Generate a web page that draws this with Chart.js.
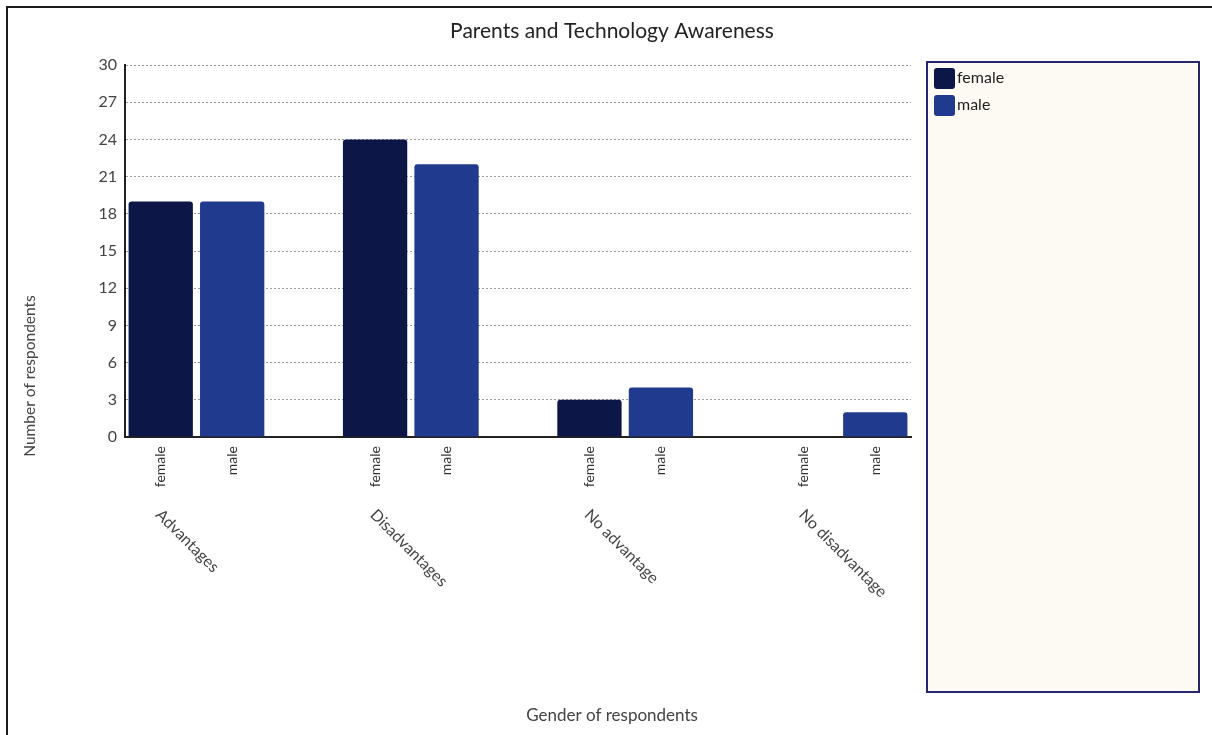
<!DOCTYPE html>
<html>
<head>
<meta charset="utf-8">
<title>Parents and Technology Awareness</title>
<script src="https://cdn.jsdelivr.net/npm/chart.js@4.4.1/dist/chart.umd.min.js"></script>
<style>
  html, body { margin: 0; padding: 0; background: #fff; }
  #wrap { position: relative; width: 1212px; height: 735px; }
</style>
</head>
<body>
<div id="wrap"><canvas id="awarenessChart" width="1212" height="735"></canvas></div>
<script>
const categories = ["Advantages", "Disadvantages", "No advantage", "No disadvantage"];
const genders = ["female", "male"];
const femaleCounts = [19, 24, 3, 0];
const maleCounts = [19, 22, 4, 2];
const yTicks = [0, 3, 6, 9, 12, 15, 18, 21, 24, 27, 30];

const femaleColor = "#0d1747";
const maleColor = "#203a8d";

// every category gets a female slot, a male slot and an empty spacer slot
const slotLabels = [];
const femaleSlots = [];
const maleSlots = [];
categories.forEach((cat, i) => {
  slotLabels.push(genders[0], genders[1]);
  femaleSlots.push(femaleCounts[i], null);
  maleSlots.push(null, maleCounts[i]);
  if (i < categories.length - 1) {
    slotLabels.push("");
    femaleSlots.push(null);
    maleSlots.push(null);
  }
});

const decorations = {
  id: "decorations",
  beforeDraw(chart) {
    const ctx = chart.ctx;
    ctx.save();
    ctx.fillStyle = "#1c1c1c";
    ctx.fillRect(6, 6, chart.width - 6, 2);
    ctx.fillRect(6, 6, 2, chart.height - 6);
    ctx.restore();
  },
  afterDraw(chart) {
    const ctx = chart.ctx;
    const x = chart.scales.x;

    ctx.save();
    // title
    ctx.fillStyle = "#222";
    ctx.font = "21px Lato";
    ctx.textAlign = "center";
    ctx.textBaseline = "middle";
    ctx.fillText("Parents and Technology Awareness", 612, 31);

    // axis titles
    ctx.fillStyle = "#444";
    ctx.font = "17px Lato";
    ctx.fillText("Gender of respondents", 612, 716);
    ctx.save();
    ctx.translate(30, 376);
    ctx.rotate(-Math.PI / 2);
    ctx.font = "15.5px Lato";
    ctx.fillText("Number of respondents", 0, 0);
    ctx.restore();

    // category names under each pair of bars
    ctx.font = "16px Lato";
    ctx.textAlign = "left";
    categories.forEach((cat, i) => {
      const cx = (x.getPixelForTick(i * 3) + x.getPixelForTick(i * 3 + 1)) / 2;
      ctx.save();
      ctx.translate(cx - 38, 512);
      ctx.rotate(Math.PI / 4);
      ctx.fillText(cat, 0, 0);
      ctx.restore();
    });

    // legend panel
    ctx.fillStyle = "#fdfaf4";
    ctx.fillRect(927, 62, 272, 630);
    ctx.strokeStyle = "#25266e";
    ctx.lineWidth = 2;
    ctx.strokeRect(927, 62, 272, 630);
    ctx.font = "16px Lato";
    ctx.textBaseline = "middle";
    chart.data.datasets.forEach((ds, i) => {
      const top = 68 + i * 27;
      ctx.fillStyle = ds.backgroundColor;
      ctx.beginPath();
      ctx.roundRect(934, top, 21, 21, 3);
      ctx.fill();
      ctx.fillStyle = "#222";
      ctx.fillText(ds.label, 957, top + 10);
    });
    ctx.restore();
  }
};

function drawChart() {
  Chart.defaults.font.family = "Lato";
  new Chart(document.getElementById("awarenessChart"), {
    type: "bar",
    data: {
      labels: slotLabels,
      datasets: [
        { label: "female", data: femaleSlots, backgroundColor: femaleColor },
        { label: "male", data: maleSlots, backgroundColor: maleColor }
      ]
    },
    options: {
      responsive: false,
      animation: false,
      layout: { padding: { top: 65, right: 301, bottom: 0, left: 0 } },
      datasets: {
        bar: { grouped: false, barPercentage: 0.9, categoryPercentage: 1, borderRadius: 3 }
      },
      plugins: {
        legend: { display: false },
        title: { display: false },
        tooltip: { enabled: false }
      },
      scales: {
        x: {
          grid: { display: false, drawTicks: false },
          border: { color: "#222", width: 2 },
          ticks: { color: "#333", font: { size: 14 }, minRotation: 90, maxRotation: 90, padding: 9, autoSkip: false },
          afterFit: s => { s.height = 735 - 437; }
        },
        y: {
          min: 0,
          max: 30,
          afterBuildTicks: s => { s.ticks = yTicks.map(v => ({ value: v })); },
          grid: {
            drawTicks: false,
            lineWidth: 1,
            color: c => (c.tick && c.tick.value === 0 ? "rgba(0,0,0,0)" : "#9a9a9a")
          },
          border: { color: "#222", width: 2, dash: [2, 2] },
          ticks: { color: "#444", font: { size: 16 }, padding: 8 },
          afterFit: s => { s.width = 125; }
        }
      }
    },
    plugins: [decorations]
  });
}

Promise.all([
  document.fonts.load("16px Lato"),
  document.fonts.load("21px Lato")
]).then(drawChart, drawChart);
</script>
</body>
</html>
